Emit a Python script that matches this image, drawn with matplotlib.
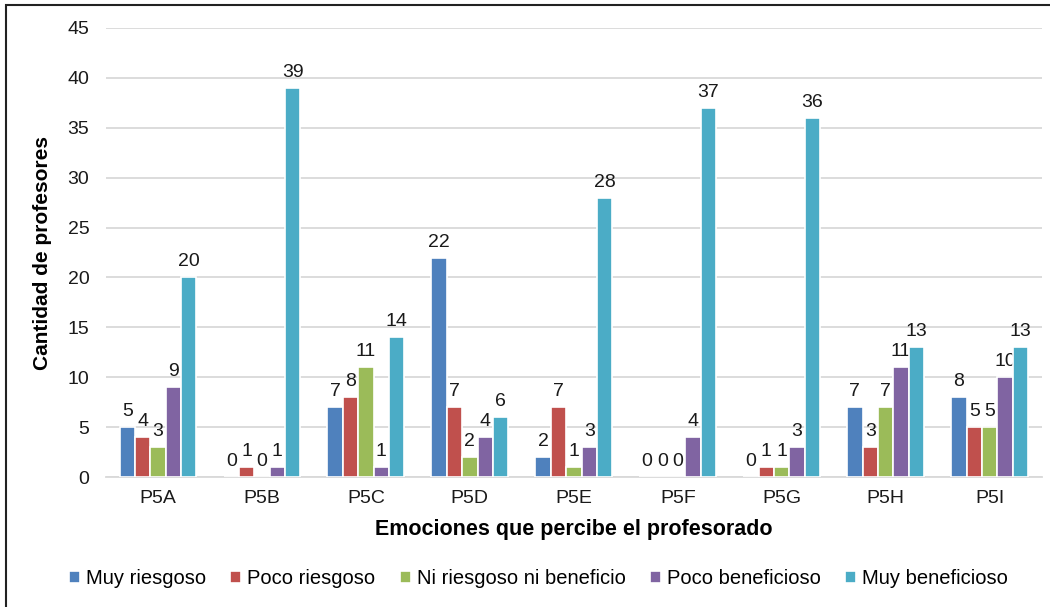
import matplotlib.pyplot as plt
import numpy as np
from matplotlib.patches import Rectangle

plt.rcParams['font.family'] = ['Liberation Sans', 'DejaVu Sans']

categories = ['P5A', 'P5B', 'P5C', 'P5D', 'P5E', 'P5F', 'P5G', 'P5H', 'P5I']
series_names = ['Muy riesgoso', 'Poco riesgoso', 'Ni riesgoso ni beneficio',
                'Poco beneficioso', 'Muy beneficioso']
muy_riesgoso = [5, 0, 7, 22, 2, 0, 0, 7, 8]
poco_riesgoso = [4, 1, 8, 7, 7, 0, 1, 3, 5]
ni_riesgoso = [3, 0, 11, 2, 1, 0, 1, 7, 5]
poco_beneficioso = [9, 1, 1, 4, 3, 4, 3, 11, 10]
muy_beneficioso = [20, 39, 14, 6, 28, 37, 36, 13, 13]
series = [muy_riesgoso, poco_riesgoso, ni_riesgoso, poco_beneficioso, muy_beneficioso]
colors = ['#4F81BD', '#C0504D', '#9BBB59', '#8064A2', '#4BACC6']

fig = plt.figure(figsize=(10.5, 6.07), dpi=100)
ax = fig.add_axes([0.101, 0.214, 0.891, 0.740])

x = np.arange(len(categories))
w = 0.148
for i, (vals, c, name) in enumerate(zip(series, colors, series_names)):
    pos = x + (i - 2) * w
    ax.bar(pos, vals, w, color=c, edgecolor='white', linewidth=1.2,
           label=name, zorder=3)
    for p, v in zip(pos, vals):
        ax.text(p, v + 0.7, str(v), ha='center', va='bottom', fontsize=14,
                color='#1a1a1a')

ax.set_xlim(-0.5, len(categories) - 0.5)
ax.set_ylim(0, 45)
ax.set_yticks(range(0, 46, 5))
ax.set_xticks(x)
ax.set_xticklabels(categories)
ax.tick_params(axis='both', length=0, labelsize=14, colors='#1a1a1a')
ax.tick_params(axis='y', pad=12)
ax.tick_params(axis='x', pad=9)
ax.grid(axis='y', color='#D9D9D9', linewidth=1.3, zorder=0)
for s in ['top', 'right', 'left']:
    ax.spines[s].set_visible(False)
ax.spines['bottom'].set_color('#D9D9D9')
ax.spines['bottom'].set_linewidth(1.3)

ax.set_xlabel('Emociones que percibe el profesorado', fontsize=15.5,
              fontweight='bold', labelpad=9)
ax.set_ylabel('Cantidad de profesores', fontsize=15, fontweight='bold',
              labelpad=11)

ax.legend(loc='upper center', bbox_to_anchor=(0.462, -0.165), ncol=5,
          frameon=False, fontsize=14.5, handlelength=0.55, handleheight=0.55,
          handletextpad=0.3, columnspacing=1.2)

fig.patches.append(Rectangle((6 / 1050, -0.05), 1.2, 1 - 5 / 607 + 0.05,
                             transform=fig.transFigure, fill=False,
                             edgecolor='#222222', linewidth=1.5))

fig.savefig('out.png', dpi=100)
